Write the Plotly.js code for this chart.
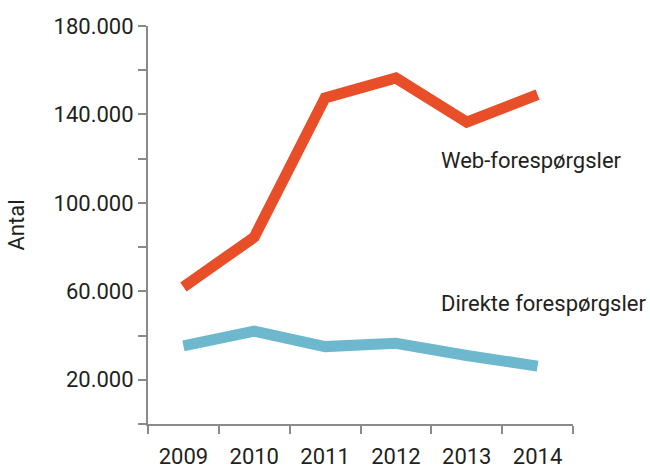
<!DOCTYPE html>
<html>
<head>
<meta charset="utf-8">
<script src="https://cdn.plot.ly/plotly-3.0.1.min.js"></script>
<style>html,body{margin:0;padding:0;background:#fff;}#chart{width:650px;height:468px;}</style>
</head>
<body>
<div id="chart"></div>
<script>
const years = ["2009", "2010", "2011", "2012", "2013", "2014"];
const webRequests = [62000, 84500, 147500, 156500, 136500, 149000];
const directRequests = [35300, 42000, 35000, 36500, 31000, 26200];
const yTickVals = [0, 20000, 40000, 60000, 80000, 100000, 120000, 140000, 160000, 180000];
const yTickText = ["", "20.000", "", "60.000", "", "100.000", "", "140.000", "", "180.000"];
const seriesNames = ["Web-forespørgsler", "Direkte forespørgsler"];

const font = "Roboto, 'Noto Sans', sans-serif";
const fs = 22;
const traces = [
  {x: years, y: webRequests, type: "scatter", mode: "lines", name: seriesNames[0],
   line: {color: "#E84E27", width: 11}, hoverinfo: "skip"},
  {x: years, y: directRequests, type: "scatter", mode: "lines", name: seriesNames[1],
   line: {color: "#6DB8CC", width: 11}, hoverinfo: "skip"}
];
const layout = {
  width: 650, height: 468,
  margin: {l: 148, r: 77, t: 26, b: 44},
  paper_bgcolor: "#fff", plot_bgcolor: "#fff",
  showlegend: false,
  font: {family: font, size: fs, color: "#231f20"},
  xaxis: {
    type: "category", range: [-0.5, 5.5], tickson: "boundaries",
    showgrid: false, zeroline: false, showline: true, linecolor: "#8a8a8a", linewidth: 2,
    ticks: "outside", ticklen: 8, tickwidth: 2, tickcolor: "#8a8a8a",
    ticklabelstandoff: 12,
    tickfont: {family: font, size: fs, color: "#231f20"}
  },
  yaxis: {
    range: [0, 180000], tickvals: yTickVals, ticktext: yTickText,
    showgrid: false, zeroline: false, showline: true, linecolor: "#8a8a8a", linewidth: 2,
    ticks: "outside", ticklen: 8, tickwidth: 2, tickcolor: "#8a8a8a",
    tickfont: {family: font, size: fs, color: "#231f20"},
    title: {text: "Antal", font: {family: font, size: fs, color: "#231f20"}, standoff: 23}
  },
  annotations: [
    {text: seriesNames[0], xref: "paper", yref: "paper", x: 0.684, y: 0.663,
     xanchor: "left", yanchor: "middle", showarrow: false, font: {family: font, size: fs, color: "#231f20"}},
    {text: seriesNames[1], xref: "paper", yref: "paper", x: 0.684, y: 0.304,
     xanchor: "left", yanchor: "middle", showarrow: false, font: {family: font, size: fs, color: "#231f20"}}
  ]
};
Plotly.newPlot("chart", traces, layout, {displayModeBar: false, staticPlot: true});
</script>
</body>
</html>
